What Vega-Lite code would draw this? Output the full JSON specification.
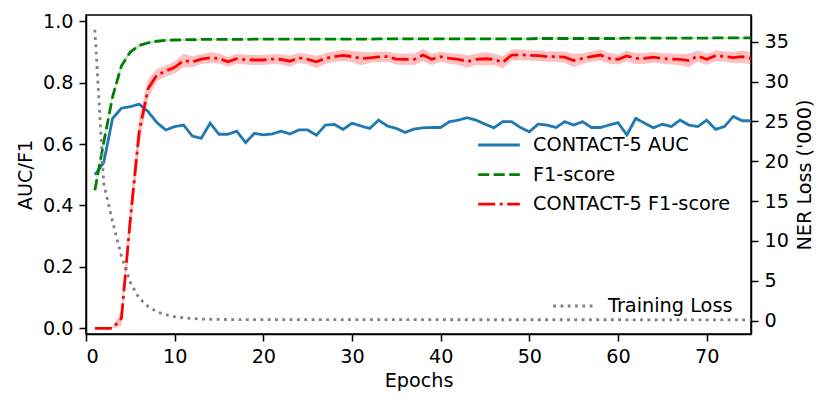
{
"$schema":"https://vega.github.io/schema/vega-lite/v6.json",
"width":665,"height":319,
"autosize":{"type":"none"},
"padding":{"left":86,"top":15,"right":79,"bottom":74},
"config":{
 "font":"DejaVu Sans",
 "view":{"stroke":"black","strokeWidth":1.5},
 "axis":{"grid":false,"domainColor":"black","domainWidth":1.5,"tickColor":"black","tickWidth":1.5,"tickSize":7,"labelFontSize":19.2,"labelColor":"black","titleFontSize":19.2,"titleFontWeight":"normal","titleColor":"black","labelPadding":6,"labelFont":"DejaVu Sans","titleFont":"DejaVu Sans","titlePadding":7},
 "legend":{"orient":"none","symbolType":"M-2,0H2","symbolSize":433,"symbolStrokeWidth":2.8,"symbolFillColor":"transparent","labelFontSize":19.3,"labelFont":"DejaVu Sans","labelColor":"black","labelOffset":22,"labelLimit":400,"padding":0,"title":null,"rowPadding":6.6}
},
"data":{"values":[
{"e":1,"auc":0.50,"f1":0.45,"f1lo":0.438,"f1hi":0.462,"c5":0,"c5lo":0,"c5hi":0,"loss":36.5},
{"e":2,"auc":0.54,"f1":0.605,"f1lo":0.593,"f1hi":0.617,"c5":0,"c5lo":0,"c5hi":0,"loss":17.2},
{"e":3,"auc":0.684,"f1":0.755,"f1lo":0.745,"f1hi":0.765,"c5":0,"c5lo":0,"c5hi":0.004,"loss":12.4},
{"e":4,"auc":0.717,"f1":0.855,"f1lo":0.847,"f1hi":0.863,"c5":0.033,"c5lo":0.008,"c5hi":0.058,"loss":8.1},
{"e":5,"auc":0.722,"f1":0.90,"f1lo":0.894,"f1hi":0.906,"c5":0.355,"c5lo":0.31,"c5hi":0.40,"loss":4.8},
{"e":6,"auc":0.73,"f1":0.921,"f1lo":0.916,"f1hi":0.926,"c5":0.64,"c5lo":0.595,"c5hi":0.685,"loss":2.8},
{"e":7,"auc":0.706,"f1":0.930,"f1lo":0.926,"f1hi":0.934,"c5":0.78,"c5lo":0.75,"c5hi":0.81,"loss":1.8},
{"e":8,"auc":0.670,"f1":0.935,"f1lo":0.931,"f1hi":0.939,"c5":0.825,"c5lo":0.805,"c5hi":0.845,"loss":1.1},
{"e":9,"auc":0.646,"f1":0.938,"f1lo":0.935,"f1hi":0.941,"c5":0.838,"c5lo":0.82,"c5hi":0.856,"loss":0.75},
{"e":10,"auc":0.657,"f1":0.939,"f1lo":0.936,"f1hi":0.942,"c5":0.85,"c5lo":0.83,"c5hi":0.87,"loss":0.5},
{"e":11,"auc":0.662,"f1":0.940,"f1lo":0.937,"f1hi":0.943,"c5":0.872,"c5lo":0.85,"c5hi":0.894,"loss":0.36},
{"e":12,"auc":0.626,"f1":0.940,"f1lo":0.937,"f1hi":0.943,"c5":0.868,"c5lo":0.85,"c5hi":0.886,"loss":0.27},
{"e":13,"auc":0.619,"f1":0.941,"f1lo":0.938,"f1hi":0.944,"c5":0.877,"c5lo":0.861,"c5hi":0.893,"loss":0.21},
{"e":14,"auc":0.668,"f1":0.941,"f1lo":0.938,"f1hi":0.944,"c5":0.881,"c5lo":0.863,"c5hi":0.899,"loss":0.18},
{"e":15,"auc":0.632,"f1":0.941,"f1lo":0.938,"f1hi":0.944,"c5":0.879,"c5lo":0.863,"c5hi":0.895,"loss":0.16},
{"e":16,"auc":0.632,"f1":0.941,"f1lo":0.938,"f1hi":0.944,"c5":0.868,"c5lo":0.852,"c5hi":0.884,"loss":0.15},
{"e":17,"auc":0.642,"f1":0.941,"f1lo":0.938,"f1hi":0.944,"c5":0.878,"c5lo":0.862,"c5hi":0.894,"loss":0.14},
{"e":18,"auc":0.605,"f1":0.941,"f1lo":0.938,"f1hi":0.944,"c5":0.875,"c5lo":0.859,"c5hi":0.891,"loss":0.14},
{"e":19,"auc":0.635,"f1":0.942,"f1lo":0.939,"f1hi":0.945,"c5":0.874,"c5lo":0.857,"c5hi":0.891,"loss":0.14},
{"e":20,"auc":0.630,"f1":0.942,"f1lo":0.939,"f1hi":0.945,"c5":0.874,"c5lo":0.858,"c5hi":0.890,"loss":0.14},
{"e":21,"auc":0.633,"f1":0.942,"f1lo":0.939,"f1hi":0.945,"c5":0.877,"c5lo":0.861,"c5hi":0.893,"loss":0.14},
{"e":22,"auc":0.642,"f1":0.942,"f1lo":0.939,"f1hi":0.945,"c5":0.876,"c5lo":0.859,"c5hi":0.893,"loss":0.14},
{"e":23,"auc":0.633,"f1":0.942,"f1lo":0.939,"f1hi":0.945,"c5":0.870,"c5lo":0.852,"c5hi":0.888,"loss":0.14},
{"e":24,"auc":0.646,"f1":0.942,"f1lo":0.939,"f1hi":0.945,"c5":0.881,"c5lo":0.865,"c5hi":0.897,"loss":0.14},
{"e":25,"auc":0.646,"f1":0.942,"f1lo":0.939,"f1hi":0.945,"c5":0.876,"c5lo":0.859,"c5hi":0.893,"loss":0.14},
{"e":26,"auc":0.629,"f1":0.942,"f1lo":0.939,"f1hi":0.945,"c5":0.868,"c5lo":0.848,"c5hi":0.888,"loss":0.13},
{"e":27,"auc":0.662,"f1":0.942,"f1lo":0.939,"f1hi":0.945,"c5":0.879,"c5lo":0.861,"c5hi":0.897,"loss":0.13},
{"e":28,"auc":0.664,"f1":0.942,"f1lo":0.939,"f1hi":0.945,"c5":0.885,"c5lo":0.868,"c5hi":0.902,"loss":0.13},
{"e":29,"auc":0.648,"f1":0.942,"f1lo":0.939,"f1hi":0.945,"c5":0.889,"c5lo":0.871,"c5hi":0.907,"loss":0.13},
{"e":30,"auc":0.668,"f1":0.942,"f1lo":0.939,"f1hi":0.945,"c5":0.885,"c5lo":0.867,"c5hi":0.903,"loss":0.13},
{"e":31,"auc":0.659,"f1":0.942,"f1lo":0.939,"f1hi":0.945,"c5":0.879,"c5lo":0.857,"c5hi":0.901,"loss":0.13},
{"e":32,"auc":0.651,"f1":0.942,"f1lo":0.939,"f1hi":0.945,"c5":0.881,"c5lo":0.864,"c5hi":0.898,"loss":0.13},
{"e":33,"auc":0.678,"f1":0.943,"f1lo":0.940,"f1hi":0.946,"c5":0.884,"c5lo":0.867,"c5hi":0.901,"loss":0.13},
{"e":34,"auc":0.659,"f1":0.943,"f1lo":0.940,"f1hi":0.946,"c5":0.885,"c5lo":0.868,"c5hi":0.902,"loss":0.13},
{"e":35,"auc":0.651,"f1":0.943,"f1lo":0.940,"f1hi":0.946,"c5":0.877,"c5lo":0.859,"c5hi":0.895,"loss":0.13},
{"e":36,"auc":0.638,"f1":0.943,"f1lo":0.940,"f1hi":0.946,"c5":0.876,"c5lo":0.858,"c5hi":0.894,"loss":0.13},
{"e":37,"auc":0.649,"f1":0.943,"f1lo":0.940,"f1hi":0.946,"c5":0.876,"c5lo":0.858,"c5hi":0.894,"loss":0.13},
{"e":38,"auc":0.653,"f1":0.943,"f1lo":0.940,"f1hi":0.946,"c5":0.890,"c5lo":0.870,"c5hi":0.910,"loss":0.13},
{"e":39,"auc":0.654,"f1":0.943,"f1lo":0.940,"f1hi":0.946,"c5":0.876,"c5lo":0.858,"c5hi":0.894,"loss":0.13},
{"e":40,"auc":0.654,"f1":0.943,"f1lo":0.940,"f1hi":0.946,"c5":0.885,"c5lo":0.868,"c5hi":0.902,"loss":0.13},
{"e":41,"auc":0.673,"f1":0.943,"f1lo":0.940,"f1hi":0.946,"c5":0.879,"c5lo":0.862,"c5hi":0.896,"loss":0.12},
{"e":42,"auc":0.678,"f1":0.943,"f1lo":0.940,"f1hi":0.946,"c5":0.876,"c5lo":0.858,"c5hi":0.894,"loss":0.12},
{"e":43,"auc":0.686,"f1":0.943,"f1lo":0.940,"f1hi":0.946,"c5":0.869,"c5lo":0.849,"c5hi":0.889,"loss":0.12},
{"e":44,"auc":0.678,"f1":0.943,"f1lo":0.940,"f1hi":0.946,"c5":0.876,"c5lo":0.858,"c5hi":0.894,"loss":0.12},
{"e":45,"auc":0.665,"f1":0.943,"f1lo":0.940,"f1hi":0.946,"c5":0.878,"c5lo":0.856,"c5hi":0.900,"loss":0.12},
{"e":46,"auc":0.653,"f1":0.943,"f1lo":0.940,"f1hi":0.946,"c5":0.876,"c5lo":0.858,"c5hi":0.894,"loss":0.12},
{"e":47,"auc":0.673,"f1":0.943,"f1lo":0.940,"f1hi":0.946,"c5":0.866,"c5lo":0.846,"c5hi":0.886,"loss":0.12},
{"e":48,"auc":0.673,"f1":0.943,"f1lo":0.940,"f1hi":0.946,"c5":0.890,"c5lo":0.872,"c5hi":0.908,"loss":0.12},
{"e":49,"auc":0.654,"f1":0.943,"f1lo":0.940,"f1hi":0.946,"c5":0.891,"c5lo":0.873,"c5hi":0.909,"loss":0.12},
{"e":50,"auc":0.640,"f1":0.943,"f1lo":0.940,"f1hi":0.946,"c5":0.889,"c5lo":0.872,"c5hi":0.906,"loss":0.12},
{"e":51,"auc":0.665,"f1":0.944,"f1lo":0.941,"f1hi":0.947,"c5":0.888,"c5lo":0.871,"c5hi":0.905,"loss":0.12},
{"e":52,"auc":0.662,"f1":0.944,"f1lo":0.941,"f1hi":0.947,"c5":0.885,"c5lo":0.868,"c5hi":0.902,"loss":0.12},
{"e":53,"auc":0.654,"f1":0.944,"f1lo":0.941,"f1hi":0.947,"c5":0.885,"c5lo":0.868,"c5hi":0.902,"loss":0.12},
{"e":54,"auc":0.673,"f1":0.944,"f1lo":0.941,"f1hi":0.947,"c5":0.883,"c5lo":0.865,"c5hi":0.901,"loss":0.12},
{"e":55,"auc":0.662,"f1":0.944,"f1lo":0.941,"f1hi":0.947,"c5":0.872,"c5lo":0.850,"c5hi":0.894,"loss":0.12},
{"e":56,"auc":0.673,"f1":0.944,"f1lo":0.941,"f1hi":0.947,"c5":0.879,"c5lo":0.862,"c5hi":0.896,"loss":0.12},
{"e":57,"auc":0.654,"f1":0.944,"f1lo":0.941,"f1hi":0.947,"c5":0.885,"c5lo":0.868,"c5hi":0.902,"loss":0.12},
{"e":58,"auc":0.654,"f1":0.944,"f1lo":0.941,"f1hi":0.947,"c5":0.890,"c5lo":0.872,"c5hi":0.908,"loss":0.12},
{"e":59,"auc":0.662,"f1":0.944,"f1lo":0.941,"f1hi":0.947,"c5":0.879,"c5lo":0.862,"c5hi":0.896,"loss":0.12},
{"e":60,"auc":0.670,"f1":0.944,"f1lo":0.941,"f1hi":0.947,"c5":0.876,"c5lo":0.859,"c5hi":0.893,"loss":0.12},
{"e":61,"auc":0.630,"f1":0.945,"f1lo":0.942,"f1hi":0.948,"c5":0.887,"c5lo":0.870,"c5hi":0.904,"loss":0.11},
{"e":62,"auc":0.684,"f1":0.945,"f1lo":0.942,"f1hi":0.948,"c5":0.879,"c5lo":0.861,"c5hi":0.897,"loss":0.11},
{"e":63,"auc":0.668,"f1":0.945,"f1lo":0.942,"f1hi":0.948,"c5":0.879,"c5lo":0.861,"c5hi":0.897,"loss":0.11},
{"e":64,"auc":0.653,"f1":0.945,"f1lo":0.942,"f1hi":0.948,"c5":0.883,"c5lo":0.866,"c5hi":0.900,"loss":0.11},
{"e":65,"auc":0.665,"f1":0.945,"f1lo":0.942,"f1hi":0.948,"c5":0.879,"c5lo":0.862,"c5hi":0.896,"loss":0.11},
{"e":66,"auc":0.657,"f1":0.945,"f1lo":0.942,"f1hi":0.948,"c5":0.877,"c5lo":0.859,"c5hi":0.895,"loss":0.11},
{"e":67,"auc":0.678,"f1":0.945,"f1lo":0.942,"f1hi":0.948,"c5":0.876,"c5lo":0.858,"c5hi":0.894,"loss":0.11},
{"e":68,"auc":0.662,"f1":0.945,"f1lo":0.942,"f1hi":0.948,"c5":0.872,"c5lo":0.850,"c5hi":0.894,"loss":0.11},
{"e":69,"auc":0.657,"f1":0.945,"f1lo":0.942,"f1hi":0.948,"c5":0.887,"c5lo":0.869,"c5hi":0.905,"loss":0.11},
{"e":70,"auc":0.678,"f1":0.945,"f1lo":0.942,"f1hi":0.948,"c5":0.876,"c5lo":0.858,"c5hi":0.894,"loss":0.11},
{"e":71,"auc":0.648,"f1":0.946,"f1lo":0.943,"f1hi":0.949,"c5":0.888,"c5lo":0.871,"c5hi":0.905,"loss":0.11},
{"e":72,"auc":0.657,"f1":0.946,"f1lo":0.943,"f1hi":0.949,"c5":0.885,"c5lo":0.868,"c5hi":0.902,"loss":0.11},
{"e":73,"auc":0.690,"f1":0.946,"f1lo":0.943,"f1hi":0.949,"c5":0.882,"c5lo":0.864,"c5hi":0.900,"loss":0.11},
{"e":74,"auc":0.676,"f1":0.946,"f1lo":0.943,"f1hi":0.949,"c5":0.885,"c5lo":0.865,"c5hi":0.905,"loss":0.11},
{"e":75,"auc":0.676,"f1":0.946,"f1lo":0.943,"f1hi":0.949,"c5":0.879,"c5lo":0.859,"c5hi":0.899,"loss":0.11}
]},
"encoding":{"x":{"field":"e","type":"quantitative","scale":{"domain":[0,75],"nice":false,"zero":false},"axis":{"values":[0,10,20,30,40,50,60,70],"title":"Epochs","titlePadding":5}}},
"layer":[
 {"layer":[
   {"mark":{"type":"area","color":"red","opacity":0.25},
    "encoding":{"y":{"field":"c5lo","type":"quantitative","title":"AUC/F1","scale":{"domain":[-0.0186,1.0205],"nice":false,"zero":false},"axis":{"orient":"left","values":[0,0.2,0.4,0.6,0.8,1.0],"format":".1f","title":"AUC/F1"}},"y2":{"field":"c5hi"}}},
   {"mark":{"type":"area","color":"green","opacity":0.25},
    "encoding":{"y":{"field":"f1lo","type":"quantitative","title":"AUC/F1"},"y2":{"field":"f1hi"}}},
   {"transform":[{"fold":["auc","f1","c5"],"as":["key","value"]}],
    "mark":{"type":"line","strokeWidth":2.8},
    "encoding":{
      "y":{"field":"value","type":"quantitative","title":"AUC/F1"},
      "color":{"field":"key","type":"nominal","scale":{"domain":["auc","f1","c5"],"range":["#1f77b4","#008000","#ff0000"]},
        "legend":{"legendX":401,"legendY":118,"labelExpr":"{'auc':'CONTACT-5 AUC','f1':'F1-score','c5':'CONTACT-5 F1-score'}[datum.label]"}},
      "strokeDash":{"field":"key","type":"nominal","scale":{"domain":["auc","f1","c5"],"range":[[1,0],[11,4.5],[17,4.5,3,4.5]]},
        "legend":{"legendX":401,"legendY":118,"labelExpr":"{'auc':'CONTACT-5 AUC','f1':'F1-score','c5':'CONTACT-5 F1-score'}[datum.label]"}}
    }}
 ]},
 {"mark":{"type":"line","strokeWidth":2.8},
  "encoding":{
    "y":{"field":"loss","type":"quantitative","scale":{"domain":[-1.67,38.35],"nice":false,"zero":false},"axis":{"orient":"right","values":[0,5,10,15,20,25,30,35],"title":"NER Loss ('000)","titleAngle":270,"titleBaseline":"top"}},
    "color":{"datum":"Training Loss","scale":{"domain":["Training Loss"],"range":["#808080"]},"legend":{"legendX":476,"legendY":279}},
    "strokeDash":{"datum":"Training Loss","scale":{"domain":["Training Loss"],"range":[[2.8,4.5]]},"legend":{"legendX":476,"legendY":279}}
  }}
],
"resolve":{"scale":{"y":"independent","color":"independent","strokeDash":"independent"}}
}
